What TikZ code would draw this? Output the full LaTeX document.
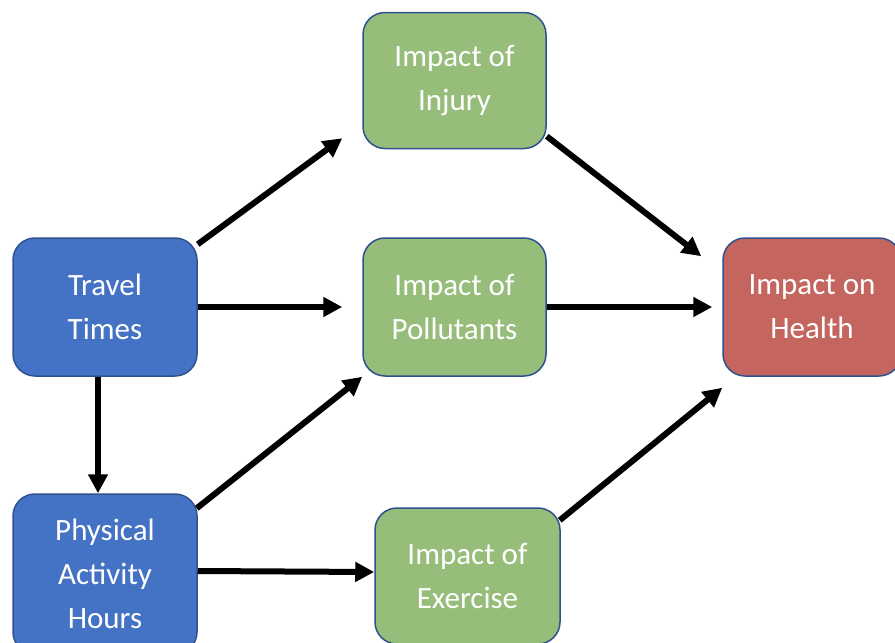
\documentclass[tikz,border=0pt]{standalone}
\usepackage{fontspec}
\setmainfont{Carlito}
\usetikzlibrary{arrows.meta,calc}
\definecolor{bluefill}{HTML}{4472C4}
\definecolor{greenfill}{HTML}{97BD7A}
\definecolor{redfill}{HTML}{C4655F}
\definecolor{edgeblue}{HTML}{2F528F}
\tikzset{
  box/.style={draw=edgeblue, line width=1.5pt, rounded corners=22pt, align=center,
    text=white, inner sep=0pt,
    font=\fontsize{31}{44}\selectfont},
  bluebox/.style={box, fill=bluefill},
  greenbox/.style={box, fill=greenfill},
  redbox/.style={box, fill=redfill},
  conn/.style={line width=6pt, -{Triangle[length=19pt,width=19pt]}, black}
}
\begin{document}
\begin{tikzpicture}[x=1pt,y=-1pt]
\useasboundingbox (0,0) rectangle (895,643);
\clip (0,0) rectangle (895,643);
\node[bluebox, minimum width=184pt, minimum height=138pt] (tt) at (105,307) {Travel\\Times};
\node[bluebox, minimum width=184pt, minimum height=160pt] (pa) at (105,574) {Physical\\Activity\\Hours};
\node[greenbox, minimum width=183pt, minimum height=136pt] (inj) at (454.5,80.5) {Impact of\\Injury};
\node[greenbox, minimum width=183pt, minimum height=138pt] (pol) at (454.5,307) {Impact of\\Pollutants};
\node[greenbox, minimum width=185pt, minimum height=136pt] (ex) at (467.5,576) {Impact of\\Exercise};
\node[redbox, minimum width=178pt, minimum height=138pt] (hea) at (812,307) {Impact on\\Health};
% connectors
\draw[conn] ($(tt.north east)+(0,7)$) -- ($(inj.south west)+(-20,-11)$);
\draw[conn] (tt.east) -- ($(pol.west)+(-20,0)$);
\draw[conn] ($(tt.south)+(-7,0)$) -- ($(pa.north)+(-7,0)$);
\draw[conn] ($(pa.north east)+(-1,15)$) -- (pol.south west);
\draw[conn] ($(pa.east)+(0,-3)$) -- ($(ex.west)+(0,-4)$);
\draw[conn] ($(inj.south east)+(0,-13)$) -- ($(hea.north west)+(-21,19)$);
\draw[conn] (pol.east) -- ($(hea.west)+(-10,0)$);
\draw[conn] ($(ex.north east)+(-1,13)$) -- ($(hea.south west)+(0,11)$);
\end{tikzpicture}
\end{document}
